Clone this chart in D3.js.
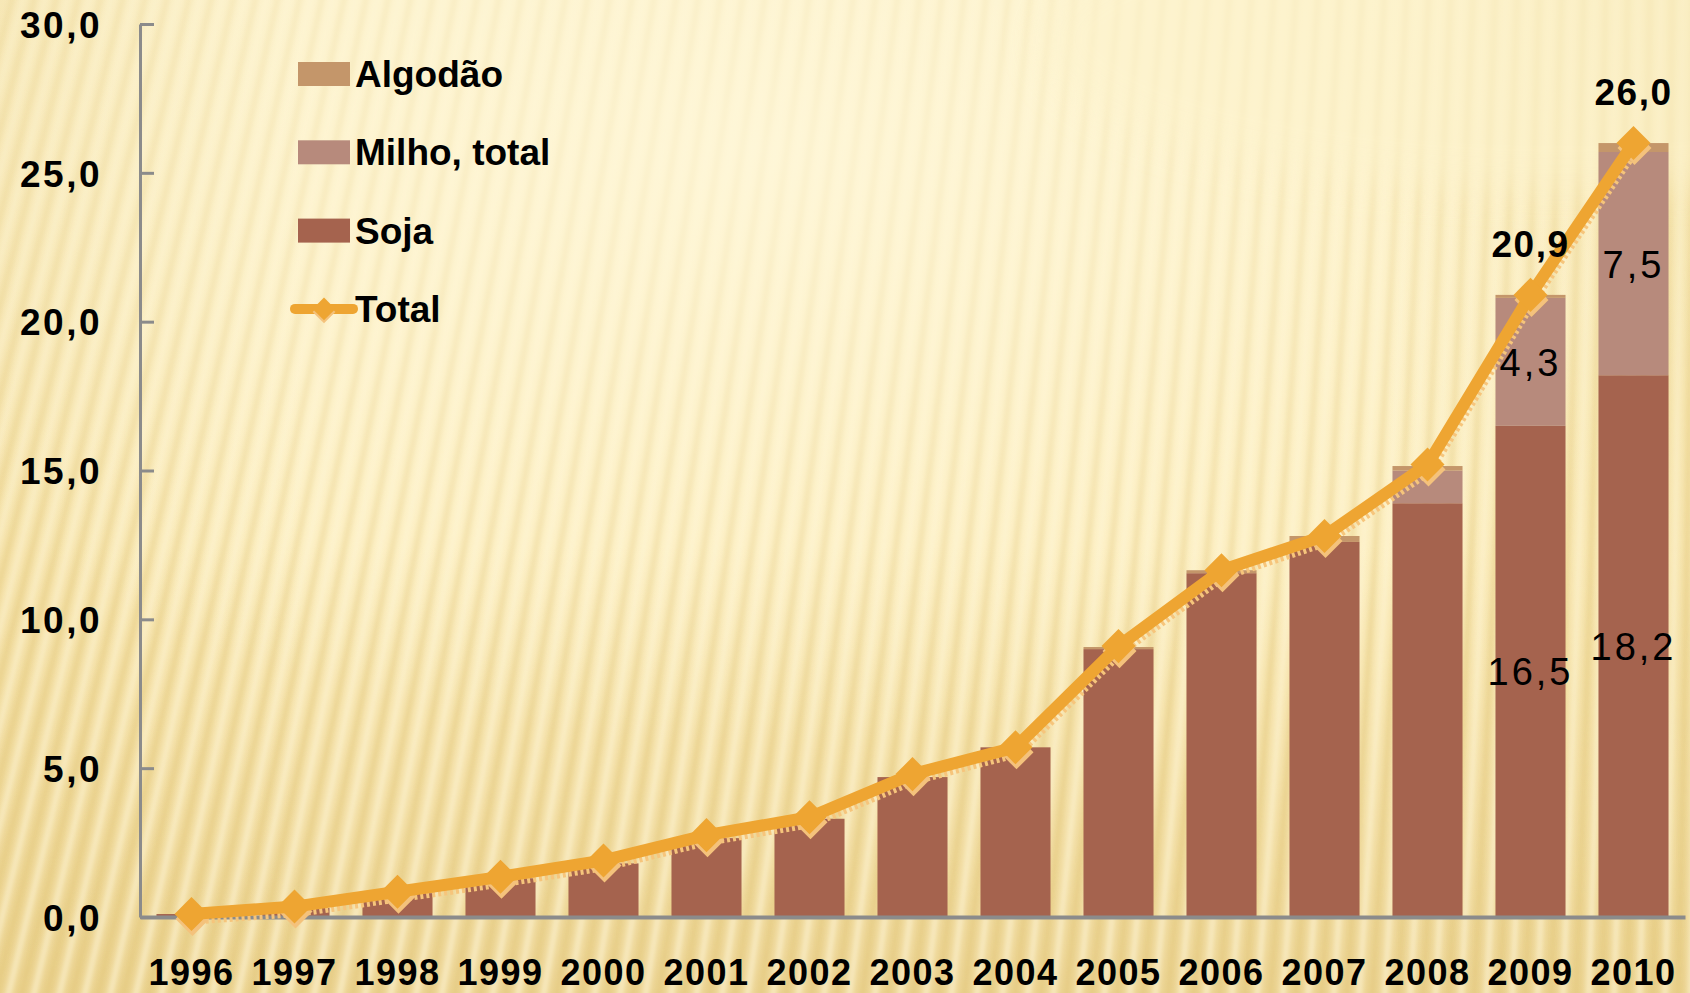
<!DOCTYPE html>
<html>
<head>
<meta charset="utf-8">
<script src="https://cdn.jsdelivr.net/npm/d3@7"></script>
<style>
  html, body { margin: 0; padding: 0; background: #fbeebd; }
  svg { display: block; }
  text { font-family: "Liberation Sans", Arial, sans-serif; fill: #000; }
</style>
</head>
<body>
<svg id="chart" width="1690" height="993"></svg>
<script>
// Área plantada por cultura (milhões de hectares), 1996–2010
const years = ["1996","1997","1998","1999","2000","2001","2002","2003","2004","2005","2006","2007","2008","2009","2010"];
const soja    = [0.1, 0.3, 0.8, 1.3, 1.8, 2.65, 3.3, 4.7, 5.7, 9.0, 11.55, 12.6, 13.9, 16.5, 18.2];
const milho   = [0, 0, 0, 0, 0, 0, 0, 0, 0, 0, 0, 0, 1.1, 4.3, 7.5];
const algodao = [0, 0, 0, 0, 0, 0, 0, 0, 0, 0.07, 0.1, 0.2, 0.15, 0.1, 0.3];
const total   = [0.1, 0.35, 0.85, 1.35, 1.9, 2.75, 3.35, 4.8, 5.7, 9.1, 11.65, 12.8, 15.2, 20.9, 26.0];
const yTicks  = [0, 5, 10, 15, 20, 25, 30];
const seriesNames = ["Soja", "Milho, total", "Algodão"];
const legendNames = ["Algodão", "Milho, total", "Soja", "Total"];
// Valores rotulados no gráfico (índices dos anos)
const labeledSoja  = [13, 14];
const labeledMilho = [13, 14];
const labeledTotal = [13, 14];

const colors = { "Soja": "#a5634e", "Milho, total": "#b78a7c", "Algodão": "#c4966a", "Total": "#eea532" };

const W = 1690, H = 993;
const svg = d3.select("#chart");
const defs = svg.append("defs");

const pt = d3.formatLocale({ decimal: ",", thousands: ".", grouping: [3], currency: ["R$", ""] });
const fmt = pt.format(".1f");

// ---------- fundo ----------
const bgGrad = defs.append("linearGradient").attr("id", "bgGrad")
  .attr("x1", 0).attr("y1", 0).attr("x2", 0).attr("y2", 1);
bgGrad.append("stop").attr("offset", "0%").attr("stop-color", "#fcf0c5");
bgGrad.append("stop").attr("offset", "55%").attr("stop-color", "#fcedbd");
bgGrad.append("stop").attr("offset", "100%").attr("stop-color", "#ecd493");

const glow = defs.append("radialGradient").attr("id", "glow")
  .attr("cx", 0.45).attr("cy", 0.15).attr("r", 0.6);
glow.append("stop").attr("offset", "0%").attr("stop-color", "#fff8dc").attr("stop-opacity", 0.75);
glow.append("stop").attr("offset", "100%").attr("stop-color", "#fff8dc").attr("stop-opacity", 0);

const edge = defs.append("linearGradient").attr("id", "edge")
  .attr("x1", 0).attr("y1", 0).attr("x2", 1).attr("y2", 0);
edge.append("stop").attr("offset", "0%").attr("stop-color", "#e9cf86").attr("stop-opacity", 0.35);
edge.append("stop").attr("offset", "18%").attr("stop-color", "#e9cf86").attr("stop-opacity", 0);
edge.append("stop").attr("offset", "82%").attr("stop-color", "#e9cf86").attr("stop-opacity", 0);
edge.append("stop").attr("offset", "100%").attr("stop-color", "#e9cf86").attr("stop-opacity", 0.3);

const stripeMaskGrad = defs.append("linearGradient").attr("id", "stripeMaskGrad")
  .attr("x1", 0).attr("y1", 0).attr("x2", 0).attr("y2", 1);
stripeMaskGrad.append("stop").attr("offset", "0%").attr("stop-color", "#fff").attr("stop-opacity", 0.5);
stripeMaskGrad.append("stop").attr("offset", "100%").attr("stop-color", "#fff").attr("stop-opacity", 1);
defs.append("mask").attr("id", "stripeMask")
  .append("rect").attr("width", W).attr("height", H).attr("fill", "url(#stripeMaskGrad)");

defs.append("filter").attr("id", "soft").attr("x", "-10%").attr("y", "-10%").attr("width", "120%").attr("height", "120%")
  .append("feGaussianBlur").attr("stdDeviation", 2);
defs.append("filter").attr("id", "softBig").attr("x", "-30%").attr("y", "-30%").attr("width", "160%").attr("height", "160%")
  .append("feGaussianBlur").attr("stdDeviation", 18);

const bg = svg.append("g");
bg.append("rect").attr("width", W).attr("height", H).attr("fill", "url(#bgGrad)");
bg.append("rect").attr("width", W).attr("height", H).attr("fill", "url(#edge)");

// listras em leque, convergindo para um ponto acima à direita
const focus = [1800, -6500];
const stripes = bg.append("g").attr("mask", "url(#stripeMask)").attr("filter", "url(#soft)");
const stripeXs = d3.range(-260, 1760, 25.5);
function rayPath(xb) {
  const t = H / (H - focus[1]);
  const xt = xb + (focus[0] - xb) * t;
  const xm = (xb + xt) / 2 + 4;
  return `M${xb},${H + 5} Q${xm},${H / 2} ${xt},-5`;
}
stripes.selectAll("path.dark").data(stripeXs).join("path")
  .attr("class", "dark").attr("d", d => rayPath(d))
  .attr("fill", "none").attr("stroke", "#e2c77c").attr("stroke-width", 6).attr("stroke-opacity", 0.55);
stripes.selectAll("path.light").data(stripeXs).join("path")
  .attr("class", "light").attr("d", d => rayPath(d + 12.5))
  .attr("fill", "none").attr("stroke", "#fff7da").attr("stroke-width", 7).attr("stroke-opacity", 0.55);

bg.append("rect").attr("width", W).attr("height", H).attr("fill", "url(#glow)");
// reflexo claro no canto superior direito
bg.append("ellipse").attr("cx", 1560).attr("cy", 40).attr("rx", 520).attr("ry", 150)
  .attr("fill", "#fdf3cc").attr("opacity", 0.55).attr("filter", "url(#softBig)");

// ---------- escalas ----------
const x = d3.scaleBand().domain(years).range([140, 1685]).paddingInner(0.32).paddingOuter(0.16);
const y = d3.scaleLinear().domain([0, 30]).range([917, 24]);

// ---------- barras empilhadas ----------
const rows = years.map((yr, i) => ({ year: yr, "Soja": soja[i], "Milho, total": milho[i], "Algodão": algodao[i] }));
const stacked = d3.stack().keys(seriesNames)(rows);

const bars = svg.append("g");
bars.selectAll("g").data(stacked).join("g")
  .attr("fill", d => colors[d.key])
  .selectAll("rect").data(d => d).join("rect")
  .attr("x", d => x(d.data.year))
  .attr("width", x.bandwidth())
  .attr("y", d => y(d[1]))
  .attr("height", d => Math.max(0, y(d[0]) - y(d[1])));

// ---------- eixos ----------
const axisColor = "#8b8b8b";
const yAxis = svg.append("g").attr("transform", "translate(140,0)")
  .call(d3.axisLeft(y).tickValues(yTicks).tickFormat(fmt).tickSizeInner(-14).tickSizeOuter(0).tickPadding(38));
yAxis.select(".domain").attr("stroke", axisColor).attr("stroke-width", 3);
yAxis.selectAll(".tick line").attr("stroke", axisColor).attr("stroke-width", 3);
yAxis.selectAll(".tick text")
  .attr("font-size", 37).attr("font-weight", "bold").attr("letter-spacing", 2.5)
  .attr("font-family", "Liberation Sans, Arial, sans-serif").attr("fill", "#000")
  .attr("dy", "0.36em");

const xAxis = svg.append("g").attr("transform", "translate(0,917)")
  .call(d3.axisBottom(x).tickSize(0).tickPadding(42));
xAxis.select(".domain").attr("stroke", axisColor).attr("stroke-width", 4);
xAxis.selectAll(".tick text")
  .attr("font-size", 36).attr("font-weight", "bold").attr("letter-spacing", 1.5)
  .attr("font-family", "Liberation Sans, Arial, sans-serif").attr("fill", "#000");

// ---------- linha do total ----------
const cx = i => x(years[i]) + x.bandwidth() / 2;
const line = d3.line().x((d, i) => cx(i)).y(d => y(d));
const diamond = d3.symbol(d3.symbolSquare, 580);

const lineG = svg.append("g");
// sombra clara
lineG.append("path").datum(total).attr("d", line)
  .attr("transform", "translate(2,5)")
  .attr("fill", "none").attr("stroke", "#f6c57c").attr("stroke-width", 11)
  .attr("stroke-dasharray", "3,3").attr("stroke-linejoin", "round");
lineG.selectAll("path.mshadow").data(total).join("path").attr("class", "mshadow")
  .attr("d", diamond)
  .attr("transform", (d, i) => `translate(${cx(i) + 1},${y(d) + 5}) rotate(45)`)
  .attr("fill", "#f4c27c");
lineG.append("path").datum(total).attr("d", line)
  .attr("fill", "none").attr("stroke", colors["Total"]).attr("stroke-width", 12)
  .attr("stroke-linejoin", "round").attr("stroke-linecap", "round");
lineG.selectAll("path.marker").data(total).join("path").attr("class", "marker")
  .attr("d", diamond)
  .attr("transform", (d, i) => `translate(${cx(i)},${y(d)}) rotate(45)`)
  .attr("fill", colors["Total"]);

// ---------- rótulos de valores ----------
const labels = svg.append("g").attr("font-family", "Liberation Sans, Arial, sans-serif").attr("text-anchor", "middle");
labels.selectAll("text.soja").data(labeledSoja).join("text").attr("class", "soja")
  .attr("x", i => cx(i)).attr("y", i => (y(0) + y(soja[i])) / 2 + 14)
  .attr("font-size", 38).attr("letter-spacing", 3)
  .text(i => fmt(soja[i]));
labels.selectAll("text.milho").data(labeledMilho).join("text").attr("class", "milho")
  .attr("x", i => cx(i)).attr("y", i => (y(soja[i]) + y(soja[i] + milho[i])) / 2 + 14)
  .attr("font-size", 38).attr("letter-spacing", 3)
  .text(i => fmt(milho[i]));
labels.selectAll("text.total").data(labeledTotal).join("text").attr("class", "total")
  .attr("x", i => cx(i)).attr("y", i => y(total[i]) - 38)
  .attr("font-size", 37).attr("font-weight", "bold").attr("letter-spacing", 1.5)
  .text(i => fmt(total[i]));

// ---------- legenda ----------
const legend = svg.append("g").attr("transform", "translate(298,74)");
const items = legend.selectAll("g").data(legendNames).join("g")
  .attr("transform", (d, i) => `translate(0,${i * 78.3})`);
items.filter(d => d !== "Total").append("rect")
  .attr("x", 0).attr("y", -12).attr("width", 52).attr("height", 24)
  .attr("fill", d => colors[d]);
const tot = items.filter(d => d === "Total");
tot.append("line").attr("x1", -3).attr("x2", 55).attr("y1", 0).attr("y2", 0)
  .attr("stroke", colors["Total"]).attr("stroke-width", 10).attr("stroke-linecap", "round");
tot.append("path").attr("d", d3.symbol(d3.symbolSquare, 260))
  .attr("transform", "translate(26,3) rotate(45)").attr("fill", "#f4c27c");
tot.append("path").attr("d", d3.symbol(d3.symbolSquare, 260))
  .attr("transform", "translate(26,0) rotate(45)").attr("fill", colors["Total"]);
items.append("text").attr("x", 57).attr("y", 13)
  .attr("font-size", 37).attr("font-weight", "bold")
  .text(d => d);
</script>
</body>
</html>
